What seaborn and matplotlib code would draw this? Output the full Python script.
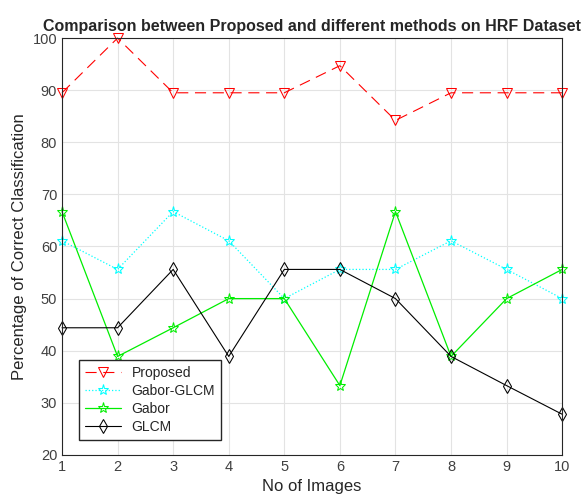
import numpy as np
import pandas as pd
import matplotlib
matplotlib.use("Agg")
import matplotlib.pyplot as plt
import seaborn as sns

# values
images = [1, 2, 3, 4, 5, 6, 7, 8, 9, 10]
proposed = [89.5, 100, 89.5, 89.5, 89.5, 94.7, 84.2, 89.5, 89.5, 89.5]
gabor_glcm = [61.1, 55.6, 66.7, 61.1, 50.0, 55.6, 55.6, 61.1, 55.6, 50.0]
gabor = [66.7, 38.9, 44.4, 50.0, 50.0, 33.3, 66.7, 38.9, 50.0, 55.6]
glcm = [44.4, 44.4, 55.6, 38.9, 55.6, 55.6, 50.0, 38.9, 33.3, 27.8]

sns.set_style("whitegrid", {"grid.color": "#e3e3e3", "axes.edgecolor": "#262626",
                            "xtick.direction": "in", "ytick.direction": "in"})
plt.rcParams['font.family'] = ['Liberation Sans', 'DejaVu Sans']

fig = plt.figure(figsize=(5.85, 5.01), dpi=100)
ax = fig.add_axes([0.106, 0.092, 0.855, 0.832])

df = pd.DataFrame({"img": images, "Proposed": proposed, "Gabor-GLCM": gabor_glcm,
                   "Gabor": gabor, "GLCM": glcm})

sns.lineplot(data=df, x="img", y="Proposed", ax=ax, color="red", marker="v",
             markersize=7, markerfacecolor="none", markeredgecolor="red",
             linewidth=0.8, dashes=(10, 6), label="Proposed", clip_on=False)
sns.lineplot(data=df, x="img", y="Gabor-GLCM", ax=ax, color="cyan", marker="*",
             markersize=8, markerfacecolor="none", markeredgecolor="cyan",
             linewidth=0.9, linestyle=":", label="Gabor-GLCM", clip_on=False)
sns.lineplot(data=df, x="img", y="Gabor", ax=ax, color="#00ee00", marker="*",
             markersize=8, markerfacecolor="none", markeredgecolor="#00ee00",
             linewidth=0.9, label="Gabor", clip_on=False)
sns.lineplot(data=df, x="img", y="GLCM", ax=ax, color="black", marker="d",
             markersize=7, markerfacecolor="none", markeredgecolor="black",
             linewidth=0.8, label="GLCM", clip_on=False)

ax.set_xlim(1, 10)
ax.set_ylim(20, 100)
ax.set_xticks(images)
ax.set_yticks(range(20, 101, 10))
ax.tick_params(labelsize=10.5, labelcolor="#404040", colors="#262626", length=4, width=0.6)
for s in ax.spines.values():
    s.set_linewidth(0.8)
ax.set_xlabel("No of Images", fontsize=12, color="#262626")
ax.set_ylabel("Percentage of Correct Classification", fontsize=12, color="#262626")
ax.set_title("Comparison between Proposed and different methods on HRF Dataset",
             fontsize=11.5, fontweight="bold", pad=5)
ax.legend(loc="lower left", bbox_to_anchor=(0.02, 0.02), fontsize=10, frameon=True,
          fancybox=False, edgecolor="#262626", framealpha=1, handlelength=2.6,
          borderpad=0.4, labelspacing=0.3)

plt.savefig("out.png", dpi=100)
